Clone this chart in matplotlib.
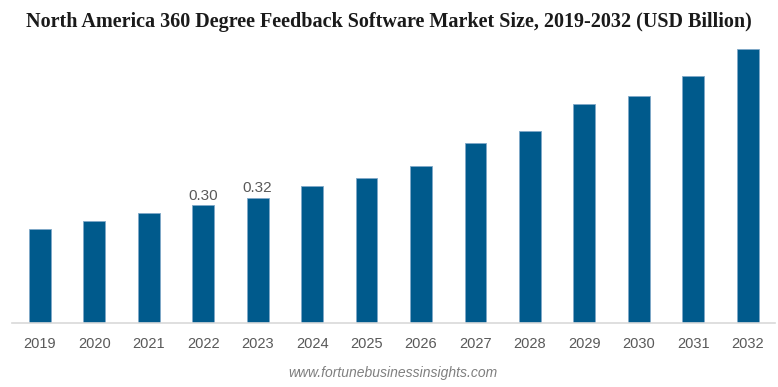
import matplotlib
matplotlib.use("Agg")
import matplotlib.pyplot as plt

years = ["2019", "2020", "2021", "2022", "2023", "2024", "2025",
         "2026", "2027", "2028", "2029", "2030", "2031", "2032"]
values = [0.24, 0.26, 0.28, 0.30, 0.32, 0.35, 0.37,
          0.40, 0.46, 0.49, 0.56, 0.58, 0.63, 0.70]
labelled = {"2022": "0.30", "2023": "0.32"}

fig = plt.figure(figsize=(7.78, 3.87), dpi=100)
# axes placed in pixel terms: left 12, right 775, baseline at y=322.7, top at y=45
ax = fig.add_axes([12 / 778, (387 - 322.7) / 387, (775 - 12) / 778, (322.7 - 45) / 387])

x = list(range(len(years)))
ax.bar(x, values, width=0.40, color="#005a8c", edgecolor="#7fa8c8", linewidth=0.6)

for i, (yr, v) in enumerate(zip(years, values)):
    if yr in labelled:
        ax.text(i, v + 0.007, labelled[yr], ha="center", va="bottom",
                fontsize=11, color="#595959", family="Liberation Sans")

ax.set_xlim(-0.51, 13.5)
ax.set_ylim(0, 277.7 / 391)
ax.set_xticks(x)
ax.set_xticklabels(years, fontsize=10.5, color="#595959", family="Liberation Sans")
ax.tick_params(axis="x", length=0, pad=10)
ax.set_yticks([])
for s in ["top", "right", "left"]:
    ax.spines[s].set_visible(False)
ax.spines["bottom"].set_color("#d9d9d9")
ax.spines["bottom"].set_linewidth(1.2)

fig.text(0.5, 1 - 22 / 387, "North America 360 Degree Feedback Software Market Size, 2019-2032 (USD Billion)",
         ha="center", va="center", fontsize=14.5, fontweight="bold",
         family="Liberation Serif", color="#1a1a1a")
fig.text(393 / 778, 1 - 373 / 387, "www.fortunebusinessinsights.com", ha="center", va="center",
         fontsize=10, style="italic", color="#7f7f7f", family="Liberation Sans")

fig.savefig("out.png", dpi=100)
